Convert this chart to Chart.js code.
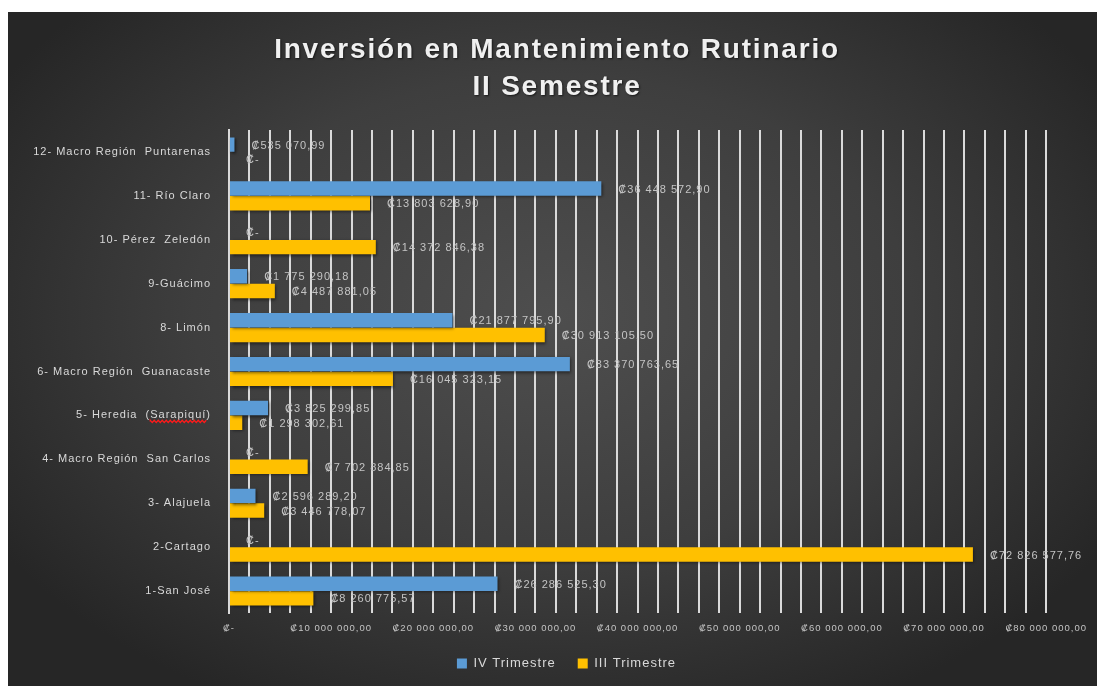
<!DOCTYPE html>
<html><head><meta charset="utf-8">
<script src="https://cdn.jsdelivr.net/npm/chart.js@4/dist/chart.umd.min.js"></script>
<style>
html,body{margin:0;padding:0;background:#fff;width:1097px;height:686px;overflow:hidden;}
#wrap{position:absolute;left:8px;top:12px;width:1089px;height:674px;
background:radial-gradient(ellipse 60% 65% at 50% 45%, #4e4e4e 0%, #3e3e3e 55%, #262626 100%);}
canvas{display:block;}
</style></head>
<body>
<div id="wrap"><canvas id="c" width="1089" height="674"></canvas></div>
<script>
const categories = ['12- Macro Región  Puntarenas','11- Río Claro','10- Pérez  Zeledón','9-Guácimo','8- Limón','6- Macro Región  Guanacaste','5- Heredia  (Sarapiquí)','4- Macro Región  San Carlos','3- Alajuela','2-Cartago','1-San José'];
const ivTrimestre = [535070.99, 36448572.90, 0, 1775290.18, 21877795.90, 33370763.65, 3825299.85, 0, 2596289.20, 0, 26286525.30];
const iiiTrimestre = [0, 13803628.90, 14372846.38, 4487881.05, 30913105.50, 16045323.15, 1298302.61, 7702884.85, 3446778.07, 72826577.76, 8260775.57];
const seriesNames = ['IV Trimestre','III Trimestre'];
const titleLines = ['Inversión en Mantenimiento Rutinario','II Semestre'];
const axisMax = 80000000;
const labelStep = 10000000;
const gridStep = 2000000;

function fmt(v){
  if(!v) return '₡-';
  const parts = v.toFixed(2).split('.');
  return '₡' + parts[0].replace(/\B(?=(\d{3})+(?!\d))/g,' ') + ',' + parts[1];
}

const FONT = '"Liberation Sans", Arial, sans-serif';

const decoPlugin = {
  id:'deco',
  beforeLayout(chart){ chart.ctx.letterSpacing = '1px'; },
  afterLayout(chart){
    const L = chart.legend;
    if(L){ L.left += 33; L.right += 33; }
  },
  beforeDraw(chart){ chart.ctx.letterSpacing = '1px'; },
  beforeDatasetsDraw(chart){
    const ctx = chart.ctx;
    ctx.save();
    ctx.shadowColor = 'rgba(0,0,0,0.55)';
    ctx.shadowBlur = 3;
    ctx.shadowOffsetX = 1.5;
    ctx.shadowOffsetY = 1.5;
  },
  afterDatasetsDraw(chart){
    const ctx = chart.ctx;
    ctx.restore();
    ctx.save();
    ctx.font = '11px ' + FONT;
    ctx.fillStyle = '#c4c4c4';
    ctx.textBaseline = 'middle';
    ctx.textAlign = 'left';
    chart.data.datasets.forEach((ds,i)=>{
      const meta = chart.getDatasetMeta(i);
      meta.data.forEach((bar,j)=>{
        ctx.fillText(fmt(ds.data[j]), bar.x + 17, bar.y + 1);
      });
    });
    ctx.restore();
  },
  afterDraw(chart){
    const ctx = chart.ctx;
    // title
    ctx.save();
    ctx.font = 'bold 28px ' + FONT;
    ctx.letterSpacing = '1.8px';
    ctx.fillStyle = '#f0f0f0';
    ctx.textAlign = 'center';
    ctx.textBaseline = 'alphabetic';
    ctx.shadowColor = 'rgba(0,0,0,0.6)';
    ctx.shadowBlur = 2;
    ctx.shadowOffsetX = 1; ctx.shadowOffsetY = 1;
    ctx.fillText(titleLines[0], 549, 46);
    ctx.fillText(titleLines[1], 549, 83);
    ctx.restore();
    // red spell-check squiggle under "Sarapiquí"
    const ys = chart.scales.y;
    const idx = categories.findIndex(c=>c.indexOf('Sarapiquí')>=0);
    if(idx<0) return;
    ctx.save();
    ctx.font = '11px ' + FONT;
    ctx.letterSpacing = '1px';
    const xr = ys.right - ys.options.ticks.padding;
    const x1 = xr - ctx.measureText(')').width;
    const x0 = xr - ctx.measureText('Sarapiquí)').width;
    const y = ys.getPixelForValue(idx) + 6;
    ctx.strokeStyle = '#ff1a1a';
    ctx.lineWidth = 1.3;
    ctx.beginPath();
    let up = true;
    ctx.moveTo(x0, y);
    for(let x=x0; x<=x1; x+=2){ ctx.lineTo(x, up? y-1.2 : y+1.2); up=!up; }
    ctx.stroke();
    ctx.restore();
  }
};

new Chart(document.getElementById('c'), {
  type:'bar',
  data:{
    labels: categories,
    datasets:[
      {label: seriesNames[0], data: ivTrimestre, backgroundColor:'#5B9BD5', borderWidth:0},
      {label: seriesNames[1], data: iiiTrimestre, backgroundColor:'#FFC000', borderWidth:0}
    ]
  },
  options:{
    indexAxis:'y',
    responsive:false,
    animation:false,
    devicePixelRatio:1,
    categoryPercentage:0.67,
    barPercentage:0.98,
    layout:{padding:{left:10,right:48,top:118,bottom:6}},
    plugins:{
      title:{display:false},
      legend:{position:'bottom', labels:{color:'#d9d9d9', font:{family:FONT,size:13}, boxWidth:10, boxHeight:10, padding:22}},
      tooltip:{enabled:false}
    },
    scales:{
      x:{
        min:0, max:axisMax,
        grid:{color:'#dadada', lineWidth:2, drawTicks:false},
        border:{display:false},
        ticks:{stepSize:gridStep, autoSkip:false, maxRotation:0, color:'#c4c4c4', font:{family:FONT,size:9.5}, padding:10,
          callback:(v)=> v===0 ? '₡-' : (v % labelStep === 0 ? fmt(v) : '')},
        afterFit:(s)=>{ s.height = 22; }
      },
      y:{
        grid:{display:false, drawTicks:false},
        border:{display:true, color:'#dadada', width:2},
        ticks:{color:'#d9d9d9', font:{family:FONT,size:11}, padding:18},
        afterFit:(s)=>{ s.width = 211; }
      }
    }
  },
  plugins:[decoPlugin]
});
</script>
</body></html>
